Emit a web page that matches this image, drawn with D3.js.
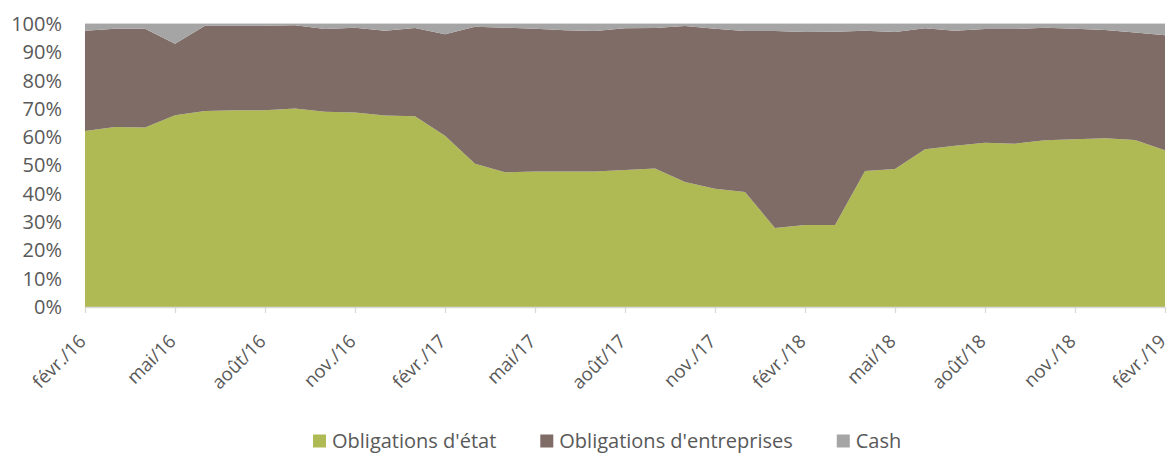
<!DOCTYPE html>
<html>
<head>
<meta charset="utf-8">
<script src="https://cdn.jsdelivr.net/npm/d3@7"></script>
<style>
  body {margin: 0; background: #fff;}
  svg text {font-family: "Open Sans", "Noto Sans", sans-serif; fill: #595959;}
</style>
</head>
<body>
<div id="chart"></div>
<script>
//-- Data (% of portfolio, monthly from févr./16 to févr./19)
var month_index = d3.range(37);
var tick_label = ['févr./16', 'mai/16', 'août/16', 'nov./16', 'févr./17', 'mai/17', 'août/17', 'nov./17', 'févr./18', 'mai/18', 'août/18', 'nov./18', 'févr./19'];
var series_name = ["Obligations d'état", "Obligations d'entreprises", "Cash"];
var gov = [62.2, 63.6, 63.4, 67.8, 69.3, 69.5, 69.5, 70.1, 69.0, 68.7, 67.7, 67.4, 60.5, 50.6, 47.6, 47.9, 47.9, 47.9, 48.4, 48.9, 44.2, 41.8, 40.6, 27.9, 29.0, 29.0, 48.1, 48.8, 55.7, 57.0, 58.0, 57.7, 58.9, 59.3, 59.6, 59.0, 55.4];
var corp = [35.4, 34.7, 34.9, 25.2, 30.1, 29.9, 29.9, 29.5, 29.2, 30.0, 29.9, 31.2, 35.9, 48.4, 51.1, 50.4, 49.9, 49.6, 50.1, 49.7, 55.1, 56.5, 56.9, 69.6, 68.2, 68.3, 49.5, 48.4, 42.8, 40.6, 40.2, 40.5, 39.8, 39.0, 38.3, 38.0, 40.6];
var cash = [2.4, 1.7, 1.7, 7.0, 0.6, 0.6, 0.6, 0.4, 1.8, 1.3, 2.4, 1.4, 3.6, 1.0, 1.3, 1.7, 2.2, 2.5, 1.5, 1.4, 0.7, 1.7, 2.5, 2.5, 2.8, 2.7, 2.4, 2.8, 1.5, 2.4, 1.8, 1.8, 1.3, 1.7, 2.1, 3.0, 4.0];
var y_ticks = d3.range(0, 1.01, 0.1);

var colors = ['#AFBA55', '#7F6C66', '#A5A5A5'];

var wrap = {id: '#chart'};

function Make_Canvas(wrap) {
  var tot_width = 1172;
  var tot_height = 453;
  var margin = {left: 85, right: 7, top: 24, bottom: 146};
  
  wrap.svg = d3.select(wrap.id)
    .append("svg")
      .attr("width", tot_width)
      .attr("height", tot_height)
    .append("g")
      .attr("transform", "translate(" + margin.left + "," + margin.top + ")");
  
  wrap.margin = margin;
  wrap.width = tot_width - margin.left - margin.right;
  wrap.height = tot_height - margin.top - margin.bottom;
}

function Format_Data(wrap) {
  var table = month_index.map(function (i) {
    return {i: i, gov: gov[i], corp: corp[i], cash: cash[i]};
  });
  
  var stack = d3.stack()
    .keys(['gov', 'corp', 'cash'])
    .offset(d3.stackOffsetExpand);
  
  wrap.stacked = stack(table);
}

function Initialize(wrap) {
  var x = d3.scaleLinear()
    .domain([0, month_index.length - 1])
    .range([0, wrap.width]);
  
  var y = d3.scaleLinear()
    .domain([0, 1])
    .range([wrap.height, 0]);
  
  //-- Top frame line
  wrap.svg.append("line")
    .attr("x1", 0)
    .attr("x2", wrap.width)
    .attr("y1", y(1) - 0.5)
    .attr("y2", y(1) - 0.5)
    .attr("stroke", "#D9D9D9")
    .attr("stroke-width", 1);
  
  //-- Areas
  var area = d3.area()
    .x(function (d) {return x(d.data.i);})
    .y0(function (d) {return y(d[0]);})
    .y1(function (d) {return y(d[1]);});
  
  wrap.svg.selectAll(".content.area")
    .data(wrap.stacked)
    .enter()
    .append("path")
      .attr("class", "content area")
      .attr("d", area)
      .style("fill", function (d, i) {return colors[i];});
  
  //-- x-axis
  var x_axis = d3.axisBottom(x)
    .tickValues(d3.range(0, month_index.length, 3))
    .tickFormat(function (d, i) {return tick_label[i];})
    .tickSizeInner(6)
    .tickSizeOuter(0);
  
  var gx = wrap.svg.append("g")
    .attr("class", "xaxis")
    .attr("transform", "translate(0," + wrap.height + ")")
    .call(x_axis);
  
  gx.selectAll("path, line")
    .attr("stroke", "#D9D9D9")
    .attr("stroke-width", 1.3);
  
  gx.selectAll("text")
    .attr("x", 0)
    .attr("y", 0)
    .attr("dy", "0.35em")
    .attr("transform", "translate(-3,31) rotate(-45)")
    .style("text-anchor", "end")
    .style("font-size", "18.5px")
    .style("fill", "#595959");
  
  //-- y-axis
  var y_axis = d3.axisLeft(y)
    .tickValues(y_ticks)
    .tickFormat(d3.format(".0%"))
    .tickSize(0);
  
  var gy = wrap.svg.append("g")
    .attr("class", "yaxis")
    .attr("transform", "translate(-23,0)")
    .call(y_axis);
  
  gy.select(".domain").remove();
  gy.selectAll("text")
    .attr("x", 0)
    .style("font-size", "20px")
    .style("fill", "#595959");
  
  //-- Legend
  var legend = wrap.svg.append("g")
    .attr("class", "legend");
  
  var pos_x = 0;
  series_name.forEach(function (name, i) {
    var item = legend.append("g");
    item.append("rect")
      .attr("x", 0)
      .attr("y", -6.5)
      .attr("width", 13)
      .attr("height", 13)
      .style("fill", colors[i]);
    var t = item.append("text")
      .attr("x", 19)
      .attr("y", 0)
      .attr("dy", "0.35em")
      .style("font-size", "20px")
      .style("fill", "#595959")
      .text(name);
    item.attr("transform", "translate(" + pos_x + ",0)");
    pos_x += 19 + t.node().getComputedTextLength() + 44;
  });
  
  legend.attr("transform", "translate(" + (313 - wrap.margin.left) + "," + (441 - wrap.margin.top) + ")");
  
  wrap.x = x;
  wrap.y = y;
}

Make_Canvas(wrap);
Format_Data(wrap);
Initialize(wrap);
</script>
</body>
</html>
